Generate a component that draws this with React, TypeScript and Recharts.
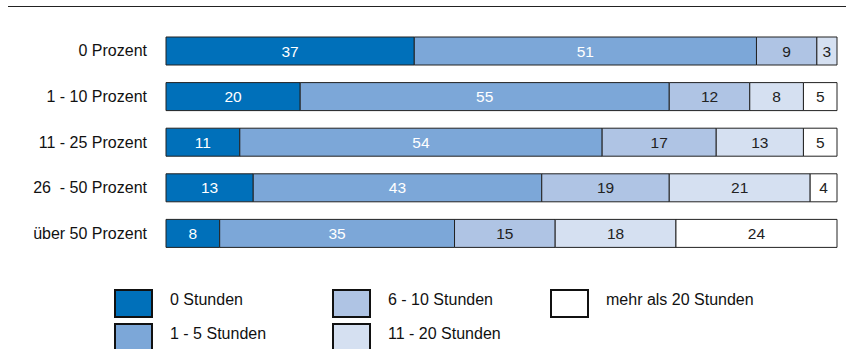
import { BarChart, Bar, XAxis, YAxis, LabelList } from 'recharts';

const categories = ['0 Prozent', '1 - 10 Prozent', '11 - 25 Prozent', '26\u00a0 - 50 Prozent', 'über 50 Prozent'];
const seriesNames = ['0 Stunden', '1 - 5 Stunden', '6 - 10 Stunden', '11 - 20 Stunden', 'mehr als 20 Stunden'];
const h0 = [37, 20, 11, 13, 8];
const h1to5 = [51, 55, 54, 43, 35];
const h6to10 = [9, 12, 17, 19, 15];
const h11to20 = [3, 8, 13, 21, 18];
const h20plus = [0, 5, 5, 4, 24];

const colors = ['#0070BA', '#7CA7D8', '#AFC4E4', '#D5E0F1', '#FFFFFF'];
const labelColors = ['#ffffff', '#ffffff', '#222222', '#222222', '#222222'];
const keys = ['s0', 's1', 's2', 's3', 's4'];

const data = categories.map((c, i) => ({
  name: c,
  s0: h0[i],
  s1: h1to5[i],
  s2: h6to10[i],
  s3: h11to20[i],
  s4: h20plus[i] || null,
}));

const font = 'Arial, "Liberation Sans", sans-serif';

// legend placed as a grid: column, row
const legendPos = [
  { x: 114, y: 289 },
  { x: 114, y: 323 },
  { x: 332, y: 289 },
  { x: 332, y: 323 },
  { x: 550, y: 289 },
];

export default function App() {
  return (
    <div style={{ position: 'absolute', left: 0, top: 0, width: 846, height: 349, background: '#fff', fontFamily: font, overflow: 'hidden' }}>
      <div style={{ position: 'absolute', left: 8, right: 0, top: 6, borderTop: '1.5px solid #222' }} />
      <BarChart
        width={846}
        height={349}
        data={data}
        layout="vertical"
        margin={{ top: 28, right: 9, bottom: 93, left: 0 }}
        barSize={28}
      >
        <XAxis type="number" domain={[0, 100]} hide />
        <YAxis
          type="category"
          dataKey="name"
          width={166}
          axisLine={false}
          tickLine={false}
          tickSize={0}
          tickMargin={19}
          tick={{ fill: '#111', fontSize: 16, fontFamily: font }}
        />
        {keys.map((k, i) => (
          <Bar key={k} dataKey={k} stackId="a" fill={colors[i]} stroke="#222" strokeWidth={1} isAnimationActive={false}>
            <LabelList dataKey={k} position="center" fill={labelColors[i]} fontSize={15.5} fontFamily={font} />
          </Bar>
        ))}
      </BarChart>
      {seriesNames.map((n, i) => (
        <div key={n} style={{ position: 'absolute', left: legendPos[i].x, top: legendPos[i].y, height: 29, display: 'flex', alignItems: 'flex-start' }}>
          <div style={{ width: 35, height: 25, background: colors[i], border: '2px solid #111', flex: 'none' }} />
          <span style={{ marginLeft: 17, fontSize: 16, lineHeight: '22px', color: '#111', whiteSpace: 'nowrap' }}>{n}</span>
        </div>
      ))}
    </div>
  );
}
